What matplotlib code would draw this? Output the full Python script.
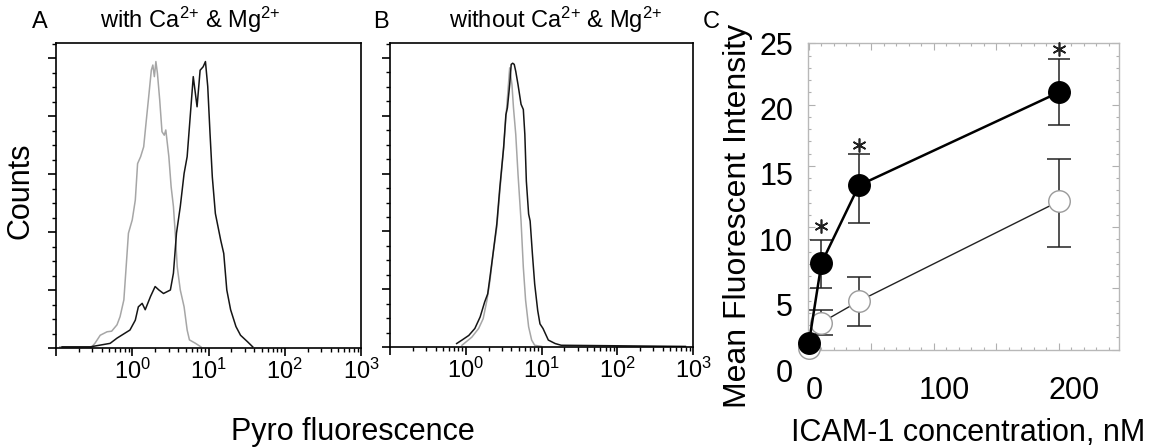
import numpy as np
import matplotlib.pyplot as plt
from matplotlib.ticker import MultipleLocator, LogLocator, NullFormatter

plt.rcParams.update({
    "font.family": ["Liberation Sans", "DejaVu Sans"],
    "mathtext.fontset": "custom",
    "mathtext.rm": "Liberation Sans",
    "mathtext.it": "Liberation Sans",
    "mathtext.default": "regular",
    "axes.linewidth": 1.2,
})

# Panel A (with Ca/Mg): log10(fluorescence) and counts
a_gray_log = [-0.95, -0.53, -0.49, -0.42, -0.33, -0.27, -0.20, -0.16, -0.11, -0.08, -0.05, 0.00,
              0.04, 0.07, 0.11, 0.15, 0.18, 0.22, 0.25, 0.27, 0.29, 0.31, 0.33, 0.36, 0.39, 0.42,
              0.44, 0.48, 0.51, 0.54, 0.57, 0.59, 0.63, 0.68, 0.72, 0.75, 0.83, 0.90]
a_gray_cnt = [0.02, 0.02, 0.08, 0.22, 0.28, 0.29, 0.40, 0.54, 0.83, 1.40, 1.98, 2.21,
              2.55, 3.18, 3.30, 3.47, 3.87, 4.39, 4.79, 4.88, 4.68, 4.94, 4.74, 4.28, 3.73, 3.67,
              3.76, 3.30, 2.78, 2.44, 1.86, 1.40, 1.00, 0.71, 0.31, 0.14, 0.08, 0.02]
a_black_log = [-0.92, -0.55, -0.29, -0.20, -0.03, 0.04, 0.08, 0.13, 0.17, 0.24, 0.30, 0.35, 0.41,
               0.50, 0.54, 0.58, 0.63, 0.68, 0.72, 0.76, 0.80, 0.85, 0.89, 0.93, 0.96, 0.99,
               1.02, 1.05, 1.09, 1.16, 1.20, 1.24, 1.29, 1.36, 1.42, 1.51, 1.58]
a_black_cnt = [0.02, 0.02, 0.08, 0.17, 0.31, 0.48, 0.71, 0.77, 0.66, 0.89, 1.06, 1.00, 0.94,
               1.00, 1.29, 1.98, 2.44, 3.01, 3.30, 3.99, 4.68, 4.16, 4.79, 4.85, 4.94, 4.51,
               3.70, 2.95, 2.32, 1.86, 1.63, 1.00, 0.66, 0.37, 0.22, 0.11, 0.02]

# Panel B (without Ca/Mg)
b_gray_log = [-0.05, 0.08, 0.17, 0.23, 0.28, 0.32, 0.36, 0.41, 0.45, 0.50, 0.53, 0.56,
              0.58, 0.61, 0.63, 0.66, 0.69, 0.73, 0.76, 0.79, 0.83, 0.87, 0.91, 1.00]
b_gray_cnt = [0.03, 0.17, 0.32, 0.49, 0.81, 1.15, 1.61, 2.07, 2.70, 3.45, 3.97, 4.48,
              4.83, 4.54, 4.14, 3.68, 2.99, 2.18, 1.38, 0.81, 0.35, 0.12, 0.03, 0.01]
b_black_log = [-0.12, -0.05, 0.04, 0.12, 0.19, 0.25, 0.29, 0.32, 0.36, 0.41, 0.45, 0.50,
               0.53, 0.55, 0.58, 0.60, 0.62, 0.64, 0.66, 0.69, 0.73, 0.76, 0.78, 0.80,
               0.83, 0.85, 0.88, 0.91, 0.95, 0.98, 1.02, 1.09, 1.18, 1.26, 2.90]
b_black_cnt = [0.06, 0.12, 0.20, 0.32, 0.52, 0.78, 0.92, 1.21, 1.61, 2.13, 2.76, 3.45,
               4.02, 4.14, 4.54, 4.89, 4.91, 4.89, 4.77, 4.54, 4.20, 4.11, 3.68, 2.87,
               2.30, 2.18, 1.61, 1.09, 0.63, 0.40, 0.32, 0.12, 0.06, 0.03, 0.01]

# Panel C
conc = [0, 10, 40, 200]
mfi_with = [0.55, 7.05, 13.4, 21.0]
mfi_with_lo = [0.55, 5.0, 10.3, 18.3]
mfi_with_hi = [0.55, 8.95, 16.0, 23.75]
mfi_without = [0.15, 2.2, 3.95, 12.1]
mfi_without_lo = [0.15, 1.2, 1.95, 8.4]
mfi_without_hi = [0.15, 3.25, 5.9, 15.55]
star_conc = [10, 40, 200]
star_y = [10.1, 16.7, 24.5]

decades = [0.1, 1, 10, 100, 1000]
decade_labels = ["", "$10^{0}$", "$10^{1}$", "$10^{2}$", "$10^{3}$"]

gray = "#a6a6a6"
W, H = 1161, 447


def fpos(left, top, right, bottom):
    return [left / W, 1 - bottom / H, (right - left) / W, (bottom - top) / H]


def draw_hist(ax, bl, bc, gl, gc):
    ax.plot(10 ** np.array(gl), gc, color=gray, lw=1.1)
    ax.plot(10 ** np.array(bl), bc, color="#151515", lw=1.1)
    ax.set_xscale("log")
    ax.set_xlim(0.1, 1000)
    ax.set_ylim(0, 5.26)
    ax.set_xticks(decades, decade_labels)
    ax.xaxis.set_minor_locator(LogLocator(base=10, subs=np.arange(2, 10)))
    ax.xaxis.set_minor_formatter(NullFormatter())
    ax.yaxis.set_major_locator(MultipleLocator(1))
    ax.yaxis.set_minor_locator(MultipleLocator(0.25))
    ax.tick_params(which="major", direction="out", length=6, width=1.2, labelsize=17, pad=2)
    ax.tick_params(which="minor", direction="out", length=3, width=1)
    ax.tick_params(axis="y", labelleft=False)


fig = plt.figure(figsize=(W / 100, H / 100), dpi=100)

ax_a = fig.add_axes(fpos(56, 43, 361, 348))
draw_hist(ax_a, a_black_log, a_black_cnt, a_gray_log, a_gray_cnt)
ax_b = fig.add_axes(fpos(390, 43, 693, 347))
draw_hist(ax_b, b_black_log, b_black_cnt, b_gray_log, b_gray_cnt)

# tick labels of panel C sit offset from its frame, so they get their own bare axes
ax_lab = fig.add_axes(fpos(814, 43.3, 1074, 370))
ax_lab.set_xlim(0, 200)
ax_lab.set_ylim(0, 25)
ax_lab.set_xticks([0, 100, 200])
ax_lab.set_yticks([0, 5, 10, 15, 20, 25])
ax_lab.tick_params(length=0, labelsize=22)
ax_lab.tick_params(axis="y", pad=15)
ax_lab.tick_params(axis="x", pad=4)
ax_lab.patch.set_visible(False)
for s in ax_lab.spines.values():
    s.set_visible(False)

ax_c = fig.add_axes(fpos(807.7, 43.3, 1119, 349.5))
ax_c.patch.set_visible(False)
ax_c.set_xlim(-1, 248)
ax_c.set_ylim(0, 25)
ax_c.xaxis.set_major_locator(MultipleLocator(50))
ax_c.xaxis.set_minor_locator(MultipleLocator(10))
ax_c.yaxis.set_major_locator(MultipleLocator(5))
ax_c.yaxis.set_minor_locator(MultipleLocator(1))
ax_c.tick_params(which="both", direction="in", top=True, right=True, labelbottom=False,
                 labelleft=False, colors="#b0b0b0", width=0.8)
ax_c.tick_params(which="major", length=5)
ax_c.tick_params(which="minor", length=2.5)
for s in ax_c.spines.values():
    s.set_color("#b8b8b8")
    s.set_linewidth(1.0)

x = np.array(conc)
m1, lo1, hi1 = map(np.array, (mfi_with, mfi_with_lo, mfi_with_hi))
m0, lo0, hi0 = map(np.array, (mfi_without, mfi_without_lo, mfi_without_hi))

ax_c.errorbar(x[1:], m0[1:], yerr=[m0[1:] - lo0[1:], hi0[1:] - m0[1:]], fmt="none",
              ecolor="#222222", elinewidth=1.1, capsize=8.5, capthick=1.1, zorder=2)
ax_c.plot(x, m0, color="#222222", lw=1.0, marker="o", ms=15.5, mfc="white",
          mec="#9a9a9a", mew=1.0, zorder=3, clip_on=False)
ax_c.errorbar(x[1:], m1[1:], yerr=[m1[1:] - lo1[1:], hi1[1:] - m1[1:]], fmt="none",
              ecolor="#222222", elinewidth=1.1, capsize=8, capthick=1.1, zorder=4)
ax_c.plot(x, m1, color="black", lw=1.8, marker="o", ms=15.5, mfc="black",
          mec="black", zorder=5, clip_on=False)
ax_c.plot(star_conc, star_y, ls="none", marker=(6, 2, 0), ms=10, mew=1.2, color="#222222",
          zorder=6, clip_on=False)

# labels and panel letters
fig.text(40 / W, 1 - 22 / H, "A", fontsize=17, ha="center", va="center")
fig.text(381 / W, 1 - 22 / H, "B", fontsize=17, ha="center", va="center")
fig.text(711 / W, 1 - 22 / H, "C", fontsize=17, ha="center", va="center")
fig.text(190 / W, 1 - 20 / H, "with Ca$^{2{+}}$ & Mg$^{2{+}}$", fontsize=17,
         ha="center", va="center")
fig.text(556 / W, 1 - 20 / H, "without Ca$^{2{+}}$ & Mg$^{2{+}}$", fontsize=17,
         ha="center", va="center")
fig.text(21 / W, 1 - 191 / H, "Counts", fontsize=22, rotation=90, ha="center", va="center")
fig.text(353 / W, 1 - 432 / H, "Pyro fluorescence", fontsize=22, ha="center", va="center")
fig.text(738 / W, 1 - 216 / H, "Mean Fluorescent Intensity", fontsize=23, rotation=90,
         ha="center", va="center")
fig.text(968 / W, 1 - 433 / H, "ICAM-1 concentration, nM", fontsize=22, ha="center", va="center")

fig.savefig("out.png", dpi=100)
